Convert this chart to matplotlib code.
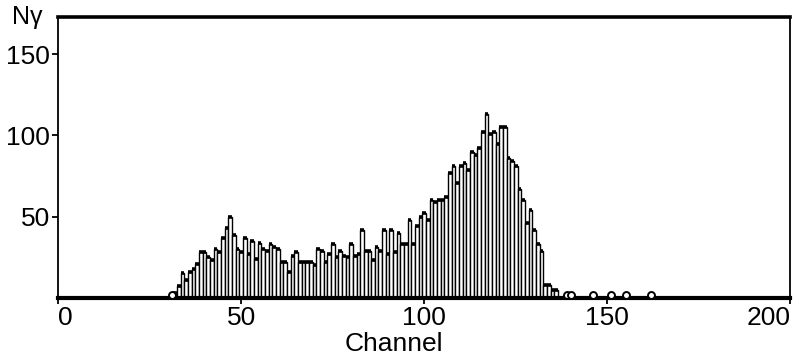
import numpy as np
import matplotlib
matplotlib.use("Agg")
import matplotlib.pyplot as plt

plt.rcParams["font.family"] = ["Liberation Sans", "DejaVu Sans"]

# counts per channel (channels 32..136)
channels = list(range(32, 137))
counts = [3, 7, 15, 11, 16, 18, 21, 28, 28,
          25, 23, 30, 28, 37, 43, 50, 39, 30, 28,
          37, 27, 35, 24, 34, 30, 29, 33, 31, 30,
          22, 22, 16, 26, 28, 22, 22, 22, 22, 20,
          30, 29, 22, 27, 33, 25, 29, 26, 25, 33,
          26, 27, 42, 29, 29, 23, 31, 29, 42, 27,
          42, 28, 40, 33, 33, 48, 33, 44, 50, 52,
          48, 60, 59, 60, 60, 62, 77, 81, 71, 81,
          83, 79, 90, 88, 92, 102, 113, 101, 102, 95,
          105, 105, 86, 84, 81, 67, 60, 46, 54, 42,
          33, 29, 8, 8, 5, 5]

# isolated single counts drawn as open circles
single_ch = [31, 139, 140, 146, 151, 155, 162]
single_val = [1.5, 1.5, 1.5, 1.5, 1.5, 1.5, 1.5]

xticks = [0, 50, 100, 150, 200]
yticks = [50, 100, 150]

fig = plt.figure(figsize=(7.96, 3.61), dpi=100)
ax = fig.add_axes([0.073, 0.175, 0.92, 0.778])

ax.bar(channels, counts, width=1.0, facecolor="white", edgecolor="black",
       linewidth=1.0, zorder=2)
# heavy tops like the pen plot
ax.hlines(counts, np.array(channels) - 0.5, np.array(channels) + 0.5,
          color="black", linewidth=2.6, zorder=3)
ax.plot(single_ch, single_val, "o", mfc="white", mec="black", ms=5,
        mew=1.4, zorder=4, clip_on=False)

ax.set_xlim(0, 200)
ax.set_ylim(0, 173)

for side in ["left", "right"]:
    ax.spines[side].set_linewidth(1.3)
ax.spines["top"].set_linewidth(2.6)
ax.spines["bottom"].set_linewidth(3.0)

ax.set_xticks(xticks)
ax.set_xticklabels([str(t) for t in xticks], fontsize=19)
labels = ax.get_xticklabels()
labels[0].set_ha("left")
labels[-1].set_ha("right")
ax.set_yticks(yticks)
ax.set_yticklabels([str(t) for t in yticks], fontsize=19)
ax.tick_params(axis="both", direction="out", length=4, width=1.3, pad=2)

ax.set_xlabel("Channel", fontsize=19, labelpad=1, x=0.458)
fig.text(0.015, 0.985, "Nγ", fontsize=18, ha="left", va="top")

fig.savefig("out.png", dpi=100)
